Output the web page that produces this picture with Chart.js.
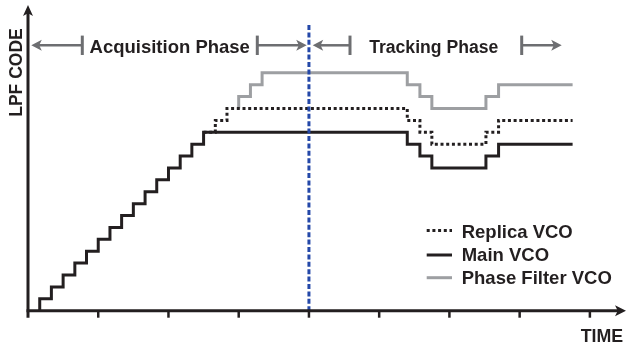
<!DOCTYPE html>
<html><head><meta charset="utf-8">
<script src="https://cdn.jsdelivr.net/npm/chart.js@4"></script>
<style>html,body{margin:0;padding:0;background:#fff;} #c{display:block}</style>
</head><body>
<canvas id="c" width="626" height="348"></canvas>
<script>
// ---- data (time in axis-tick units, code in LPF code steps) ----
const mainTime    = [0.167, 0.167, 0.333, 0.5, 0.667, 0.833, 1.0, 1.167, 1.333, 1.5, 1.667, 1.833, 2.0, 2.167, 2.333, 2.5, 5.40, 5.58, 5.75, 6.52, 6.70, 7.754];
const mainCode    = [0, 1, 2, 3, 4, 5, 6, 7, 8, 9, 10, 11, 12, 13, 14, 15, 14, 13, 12, 13, 14, 14];
const replicaTime = [2.5, 2.667, 2.833, 5.40, 5.58, 5.75, 6.52, 6.70, 7.754];
const replicaCode = [15, 16, 17, 16, 15, 14, 15, 16, 16];
const filterTime  = [3.0, 3.0, 3.167, 3.333, 5.40, 5.58, 5.75, 6.52, 6.70, 7.754];
const filterCode  = [17, 18, 19, 20, 19, 18, 17, 18, 19, 19];
const timeTicks   = [1, 2, 3, 4, 5, 6, 7, 8];
const phaseBoundary = 4;
const legendNames = ['Replica VCO', 'Main VCO', 'Phase Filter VCO'];
const phaseNames  = ['Acquisition Phase', 'Tracking Phase'];
const axisTitles  = {x: 'TIME', y: 'LPF CODE'};

const toPts = (t, c) => t.map((v, i) => ({x: v, y: c[i]}));
const FONT = '"Liberation Sans", Arial, Helvetica, sans-serif';
const INK = '#231f20';
const ARROW = '#6d6e71';

function head(ctx, tx, ty, dx, dy, len, half) {
  const px = -dy, py = dx;
  ctx.beginPath();
  ctx.moveTo(tx, ty);
  ctx.lineTo(tx - dx*len + px*half, ty - dy*len + py*half);
  ctx.lineTo(tx - dx*len*0.75, ty - dy*len*0.75);
  ctx.lineTo(tx - dx*len - px*half, ty - dy*len - py*half);
  ctx.closePath();
  ctx.fill();
}
function phaseArrow(ctx, barX, tipX, y) {
  const d = tipX > barX ? 1 : -1;
  ctx.strokeStyle = ARROW; ctx.fillStyle = ARROW;
  ctx.lineWidth = 2.5;
  ctx.beginPath(); ctx.moveTo(barX, y); ctx.lineTo(tipX - d*7, y); ctx.stroke();
  head(ctx, tipX, y, d, 0, 10.5, 5.5);
  ctx.lineWidth = 3;
  ctx.beginPath(); ctx.moveTo(barX, y - 9.7); ctx.lineTo(barX, y + 9.7); ctx.stroke();
}

const decor = {
  id: 'decor',
  afterDatasetsDraw(chart) {
    const {ctx, chartArea: a, scales: {x, y}} = chart;
    const x0 = x.getPixelForValue(0), y0 = y.getPixelForValue(0);
    ctx.save();
    // phase boundary (blue dashed)
    const bx = x.getPixelForValue(phaseBoundary);
    ctx.strokeStyle = '#2448a8'; ctx.lineWidth = 3; ctx.setLineDash([5, 2.4]);
    ctx.beginPath(); ctx.moveTo(bx, 25); ctx.lineTo(bx, y0); ctx.stroke();
    ctx.setLineDash([]);
    // axes
    ctx.strokeStyle = INK; ctx.fillStyle = INK; ctx.lineWidth = 3;
    ctx.beginPath(); ctx.moveTo(x0, y0 + 7); ctx.lineTo(x0, a.top + 8); ctx.stroke();
    head(ctx, x0, a.top, 0, -1, 11, 5);
    ctx.beginPath(); ctx.moveTo(x0 - 1.5, y0); ctx.lineTo(a.right - 6, y0); ctx.stroke();
    head(ctx, a.right + 1, y0, 1, 0, 11, 5.5);
    ctx.lineWidth = 2.5;
    timeTicks.forEach(t => {
      const px = x.getPixelForValue(t);
      ctx.beginPath(); ctx.moveTo(px, y0); ctx.lineTo(px, y0 + 7); ctx.stroke();
    });
    // axis titles
    ctx.font = 'bold 17.8px ' + FONT; ctx.textAlign = 'left'; ctx.textBaseline = 'alphabetic';
    ctx.fillText(axisTitles.x, 580.7, 341.7);
    ctx.save();
    ctx.translate(22.3, 72.5); ctx.rotate(-Math.PI/2);
    ctx.font = 'bold 17.5px ' + FONT; ctx.textAlign = 'center';
    ctx.fillText(axisTitles.y, 0, 0);
    ctx.restore();
    // phase annotations
    const ay = 45.3;
    phaseArrow(ctx, 82.3, 31.3, ay);
    phaseArrow(ctx, 257.3, 306.7, ay);
    phaseArrow(ctx, 350, 312.7, ay);
    phaseArrow(ctx, 521.7, 561.7, ay);
    ctx.fillStyle = INK; ctx.textAlign = 'center';
    ctx.font = 'bold 18.5px ' + FONT;
    ctx.fillText(phaseNames[0], 169.7, 53);
    ctx.font = 'bold 17.6px ' + FONT;
    ctx.fillText(phaseNames[1], 433.7, 53);
    // legend
    const order = [1, 0, 2]; // replica, main, filter dataset indices
    const lys = [230.5, 255, 277.7];
    const tys = [237.7, 261, 284.3];
    order.forEach((di, k) => {
      const ds = chart.data.datasets[di];
      ctx.strokeStyle = ds.borderColor; ctx.lineWidth = ds.borderWidth;
      ctx.setLineDash(ds.borderDash || []);
      ctx.beginPath(); ctx.moveTo(426.7, lys[k]); ctx.lineTo(452, lys[k]); ctx.stroke();
      ctx.setLineDash([]);
      ctx.fillStyle = INK; ctx.textAlign = 'left';
      ctx.font = 'bold 18.5px ' + FONT;
      ctx.fillText(legendNames[k], 461.7, tys[k]);
    });
    ctx.restore();
  }
};

new Chart(document.getElementById('c'), {
  type: 'line',
  data: {
    datasets: [
      {label: legendNames[1], data: toPts(mainTime, mainCode), borderColor: INK, borderWidth: 3, stepped: true},
      {label: legendNames[0], data: toPts(replicaTime, replicaCode), borderColor: INK, borderWidth: 3, borderDash: [3, 2.7], stepped: true},
      {label: legendNames[2], data: toPts(filterTime, filterCode), borderColor: '#9d9fa2', borderWidth: 3, stepped: true}
    ]
  },
  options: {
    responsive: false,
    animation: false,
    devicePixelRatio: 1,
    layout: {padding: {left: 28, right: 1, top: 5, bottom: 37.3}},
    elements: {point: {radius: 0}, line: {borderJoinStyle: 'miter', borderCapStyle: 'butt', fill: false, tension: 0}},
    plugins: {legend: {display: false}, tooltip: {enabled: false}},
    scales: {
      x: {type: 'linear', min: 0, max: 8.5, display: false},
      y: {type: 'linear', min: 0, max: 25.7, display: false}
    }
  },
  plugins: [decor]
});
</script>
</body></html>
